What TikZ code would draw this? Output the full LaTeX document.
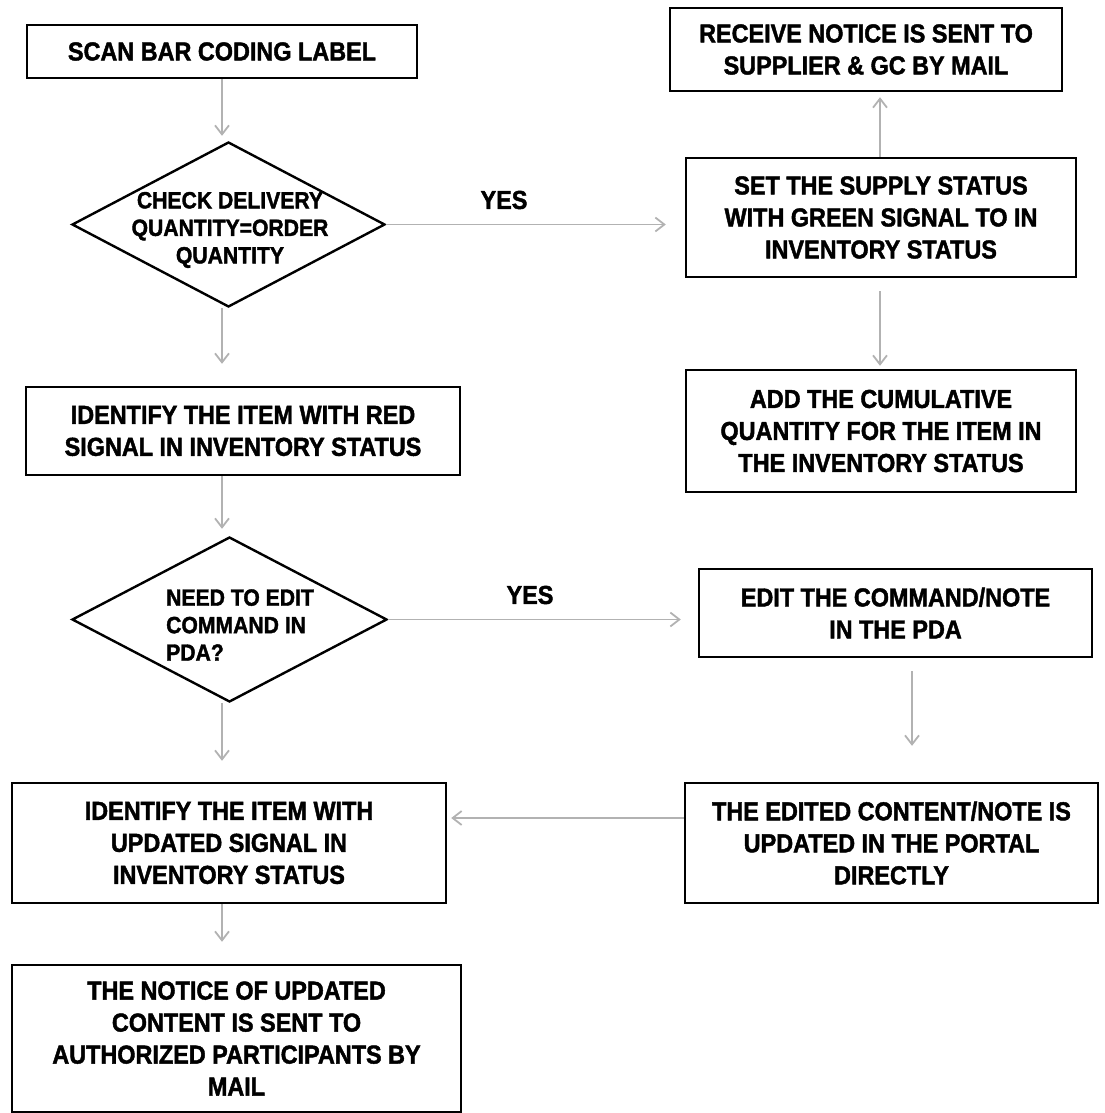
\documentclass[tikz,border=0pt]{standalone}
\usepackage{fontspec}
\newfontfamily\boxfont[FakeStretch=0.9, BoldFeatures={FakeBold=1.6}]{Liberation Sans}
\usetikzlibrary{shapes.geometric,arrows.meta}
\tikzset{
  box/.style={draw=black, line width=2.4pt, inner sep=0pt, align=center,
    font=\boxfont\bfseries\fontsize{26}{32}\selectfont},
  dec/.style={draw=black, diamond, line width=2.4pt, inner sep=0pt},
  dtext/.style={inner sep=0pt, font=\boxfont\bfseries\fontsize{23.5}{27.5}\selectfont},
  yeslbl/.style={inner sep=0pt, font=\boxfont\bfseries\fontsize{26}{32}\selectfont},
  arr/.style={draw=gray!60, line width=1.8pt, -{Straight Barb[length=9pt,width=14pt]}}
}
\begin{document}
\begin{tikzpicture}[x=1pt,y=-1pt]
\useasboundingbox (0,0) rectangle (1104,1113);
% left column
\node[box, minimum width=390pt, minimum height=53pt] (scan) at (222,51.5) {SCAN BAR CODING LABEL};
\node[dec, minimum width=313pt, minimum height=165pt] (d1) at (228.5,224.5) {};
\node[dtext, align=center] (d1t) at (230,230) {CHECK DELIVERY\\QUANTITY=ORDER\\QUANTITY};
\node[box, minimum width=434pt, minimum height=88pt] (red) at (243,431) {IDENTIFY THE ITEM WITH RED\\SIGNAL IN INVENTORY STATUS};
\node[dec, minimum width=315pt, minimum height=165pt] (d2) at (229.5,619.5) {};
\node[dtext, align=left, anchor=west] (d2t) at (166,625) {NEED TO EDIT\\COMMAND IN\\PDA?};
\node[box, minimum width=434pt, minimum height=120pt] (upd) at (229,843) {IDENTIFY THE ITEM WITH\\UPDATED SIGNAL IN\\INVENTORY STATUS};
\node[box, minimum width=449pt, minimum height=147pt] (notice) at (236.5,1038.5) {THE NOTICE OF UPDATED\\CONTENT IS SENT TO\\AUTHORIZED PARTICIPANTS BY\\MAIL};
% right column
\node[box, minimum width=392pt, minimum height=83pt] (receive) at (866,49.5) {RECEIVE NOTICE IS SENT TO\\SUPPLIER \& GC BY MAIL};
\node[box, minimum width=390pt, minimum height=119pt] (set) at (881,217.5) {SET THE SUPPLY STATUS\\WITH GREEN SIGNAL TO IN\\INVENTORY STATUS};
\node[box, minimum width=390pt, minimum height=122pt] (add) at (881,431) {ADD THE CUMULATIVE\\QUANTITY FOR THE ITEM IN\\THE INVENTORY STATUS};
\node[box, minimum width=393pt, minimum height=88pt] (edit) at (895.5,613) {EDIT THE COMMAND/NOTE\\IN THE PDA};
\node[box, minimum width=413pt, minimum height=120pt] (edited) at (891.5,843) {THE EDITED CONTENT/NOTE IS\\UPDATED IN THE PORTAL\\DIRECTLY};
% labels
\node[yeslbl] (yes1) at (504,200) {YES};
\node[yeslbl] (yes2) at (530,595) {YES};
% connectors
\draw[arr, shorten >=5pt] (scan.south) -- (scan.south |- d1.north);
\draw[arr, shorten >=22pt] (d1.south -| scan.south) -- (red.north -| scan.south);
\draw[arr, shorten >=7pt] (red.south -| scan.south) -- (d2.north -| scan.south);
\draw[arr, shorten >=21pt] (d2.south -| scan.south) -- (upd.north -| scan.south);
\draw[arr, shorten >=22pt] (upd.south -| scan.south) -- (notice.north -| scan.south);
\draw[arr, shorten >=19pt] (d1.east) -- (d1.east -| set.west);
\draw[arr, shorten >=17pt] (d2.east) -- (d2.east -| edit.west);
\draw[arr, shorten >=5pt] ([xshift=-1pt]set.north) -- ([xshift=-1pt]set.north |- receive.south);
\draw[arr, shorten <=13pt, shorten >=3pt] ([xshift=-1pt]set.south) -- ([xshift=-1pt]set.south |- add.north);
\draw[arr, shorten <=13pt, shorten >=36pt] ([xshift=16.5pt]edit.south) -- ([xshift=16.5pt]edit.south |- edited.north);
\draw[arr, shorten >=4pt] ([yshift=25pt]edited.west) -- ([yshift=25pt]edited.west -| upd.east);
\end{tikzpicture}
\end{document}
